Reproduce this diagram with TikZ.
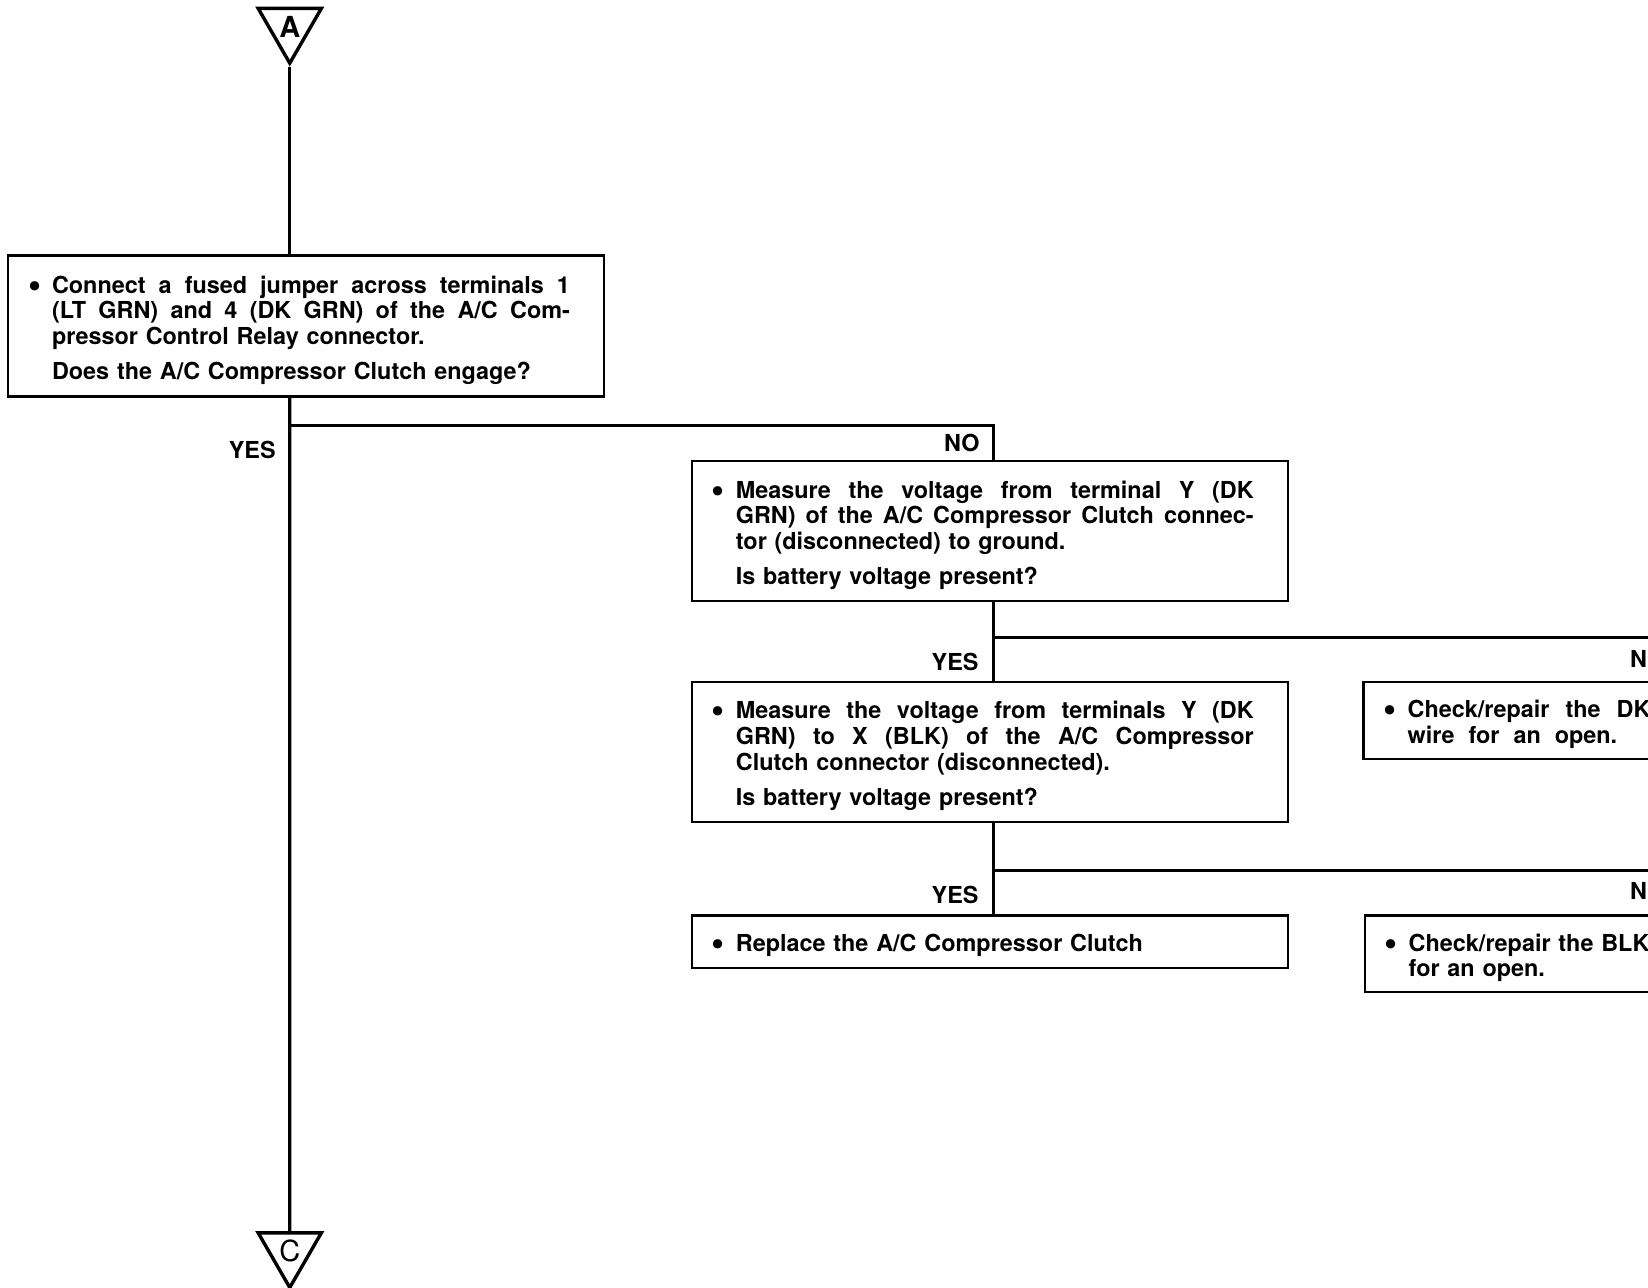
\documentclass[tikz,border=0pt]{standalone}
\usepackage{fontspec}
\usepackage{graphicx}
\setmainfont{TeX Gyre Heros}
\usetikzlibrary{shapes.geometric}
\newcommand{\bul}{\rule{0pt}{12.7pt}\makebox[10pt][l]{\hspace*{-2pt}\raisebox{-2pt}{\scalebox{1.6}{\textbullet}}}}
\newcommand{\ind}{\hspace*{10pt}}
\newcommand{\jline}[1]{{\spaceskip=\fontdimen2\font plus 1fil\xspaceskip=\spaceskip\makebox[259pt][s]{#1}}}
\tikzset{chk/.style={draw,line width=1.2pt,anchor=north west,text width=274pt,inner xsep=12pt,inner ysep=0pt,minimum width=298pt,align=left,font=\bfseries\fontsize{11.7pt}{12.9pt}\selectfont},
lbl/.style={anchor=east,inner sep=0pt,font=\bfseries\fontsize{11.7pt}{12.9pt}\selectfont},
conn/.style={draw,regular polygon,regular polygon sides=3,shape border rotate=180,line width=1.7pt,minimum size=36.5pt,inner sep=0pt,font=\bfseries\fontsize{14.5pt}{14.5pt}\selectfont}}

\begin{document}
\begin{tikzpicture}[x=0.527pt,y=-0.527pt,wire/.style={line width=1.6pt}]
\useasboundingbox (0,0) rectangle (1564,1222);
\clip (0,0) rectangle (1564,1222);

\node[conn] (ta) at (275,25.3) {A};
\node[conn,font=\fontsize{14.5pt}{14.5pt}\selectfont] (tc) at (275,1187.3) {C};

\node[chk,minimum height=70.4pt] (q1) at (6.5,241.5) {\bul\jline{Connect a fused jumper across terminals 1}\\
\ind\jline{(LT GRN) and 4 (DK GRN) of the A/C Com-}\\
\ind pressor Control Relay connector.\\[4.5pt]
\ind Does the A/C Compressor Clutch engage?};
\node[chk,minimum height=70pt] (q2) at (655.5,436.5) {\bul\jline{Measure the voltage from terminal Y (DK}\\
\ind\jline{GRN) of the A/C Compressor Clutch connec-}\\
\ind tor (disconnected) to ground.\\[4.5pt]
\ind Is battery voltage present?};
\node[chk,minimum height=70pt] (q3) at (655.5,646) {\bul\jline{Measure the voltage from terminals Y (DK}\\
\ind\jline{GRN) to X (BLK) of the A/C Compressor}\\
\ind Clutch connector (disconnected).\\[4.5pt]
\ind Is battery voltage present?};
\node[chk,minimum height=26.5pt] (fix1) at (655.5,867.5) {\bul Replace the A/C Compressor Clutch};
\node[chk,minimum height=38.5pt] (fix2) at (1293,646) {\bul{\spaceskip=8pt plus 2pt Check/repair the DK}\\
\ind{\spaceskip=7pt wire for an open.}};
\node[chk,minimum height=38.5pt] (fix3) at (1294,867.5) {\bul Check/repair the BLK\\
\ind for an open.};

\coordinate (b1) at (275,404);
\coordinate (b2) at (943,605);
\coordinate (b3) at (943,826);
\draw[wire] (ta.south) -- (ta.south |- q1.north);
\draw[wire] (ta.south |- q1.south) -- (tc.north);
\draw[wire] (b1) -| (b2 |- q2.north);
\draw[wire] (b2 |- q2.south) -- (b2 |- q3.north);
\draw[wire] (b2) -| (fix2.north);
\draw[wire] (b3 |- q3.south) -- (b3 |- fix1.north);
\draw[wire] (b3) -| (fix3.north);

\node[lbl] (yes1) at (262,427) {YES};
\node[lbl] (no1) at (930,420) {NO};
\node[lbl] (yes2) at (929,628) {YES};
\node[lbl] (no2) at (1581,625) {NO};
\node[lbl] (yes3) at (929,849) {YES};
\node[lbl] (no3) at (1581,846) {NO};
\end{tikzpicture}
\end{document}
